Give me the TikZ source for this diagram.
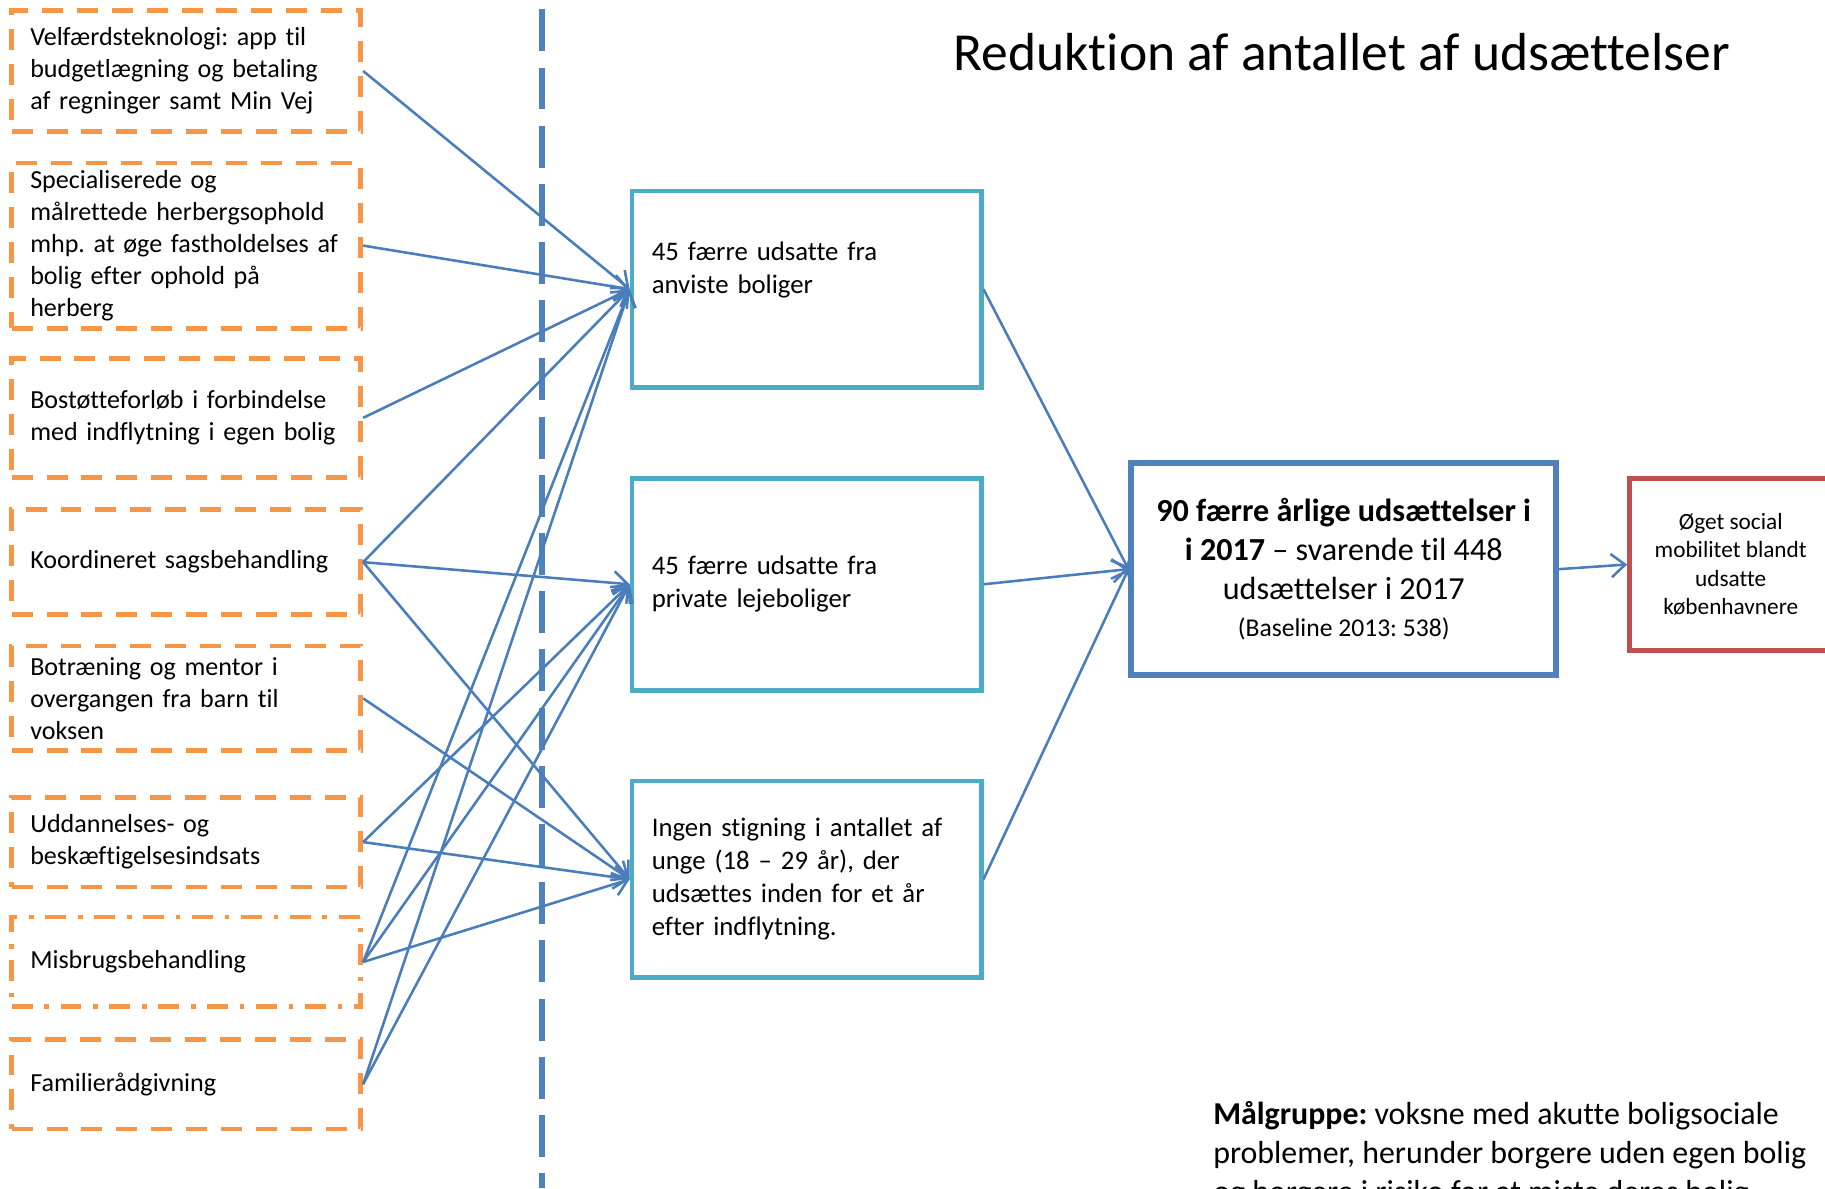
\documentclass[tikz,border=0pt]{standalone}
\usepackage{fontspec}
\setmainfont{Carlito}[Ligatures=CommonOff]
\frenchspacing
\usetikzlibrary{arrows.meta}

\definecolor{TiltagOrange}{HTML}{F79646}
\definecolor{MalCyan}{HTML}{4BACC6}
\definecolor{EffektBlue}{HTML}{4F81BD}
\definecolor{PilBlue}{HTML}{4A7EBB}
\definecolor{GevinstRed}{HTML}{C0504D}

\tikzstyle{tiltag-box}=[draw=TiltagOrange, line width=2pt, dash pattern=on 9pt off 6pt, fill=white, text width=134pt, inner xsep=8pt, inner ysep=1pt, align=left, font=\fontsize{11.2}{13.75}\selectfont]
\tikzstyle{mal-box}=[draw=MalCyan, line width=2pt, fill=white, text width=133pt, inner xsep=8.5pt, align=left, font=\fontsize{11.5}{14.2}\selectfont]
\tikzstyle{pil}=[draw=PilBlue, line width=1.1pt, -{Straight Barb[length=6pt,width=10pt]}]

\begin{document}
\begin{tikzpicture}[x=0.5pt, y=-0.5pt]
      \clip (0,0) rectangle (1568,1021);
      \fill[white] (0,0) rectangle (1568,1021);

      \node (titel) at (1153, 45) {\fontsize{23}{27}\selectfont Reduktion af antallet af udsættelser};

      \coordinate (skille-top) at (466, 8);
      \coordinate (skille-bund) at (466, 1021);
      \draw[draw=EffektBlue, line width=2.5pt, dash pattern=on 18pt off 7pt] (skille-top) -- (skille-bund);

      \node (tiltag-1) at (160,  61)   [tiltag-box, minimum height=52pt] {Velfærdsteknologi: app til\\budgetlægning og betaling\\af regninger samt Min Vej};
      \node (tiltag-2) at (160, 211)   [tiltag-box, minimum height=71pt] {Specialiserede og\\målrettede herbergsophold\\mhp. at øge fastholdelses af\\bolig efter ophold på\\herberg};
      \node (tiltag-3) at (160, 359)   [tiltag-box, minimum height=51pt] {Bostøtteforløb i forbindelse\\med indflytning i egen bolig};
      \node (tiltag-4) at (160, 483)   [tiltag-box, minimum height=45pt] {Koordineret sagsbehandling};
      \node (tiltag-5) at (160, 600)   [tiltag-box, minimum height=45pt] {Botræning og mentor i\\overgangen fra barn til\\voksen};
      \node (tiltag-6) at (160, 723.5) [tiltag-box, minimum height=38.5pt] {Uddannelses- og\\beskæftigelsesindsats};
      \node (tiltag-7) at (160, 826.5) [tiltag-box, minimum height=38.5pt, dash pattern=on 9pt off 5pt on 2pt off 5pt] {Misbrugsbehandling};
      \node (tiltag-8) at (160, 931.5) [tiltag-box, minimum height=38.5pt] {Familierådgivning};

      \node (mal-1) at (693, 248.5) [mal-box, minimum height=84.5pt] {45 færre udsatte fra\\anviste boliger\\\strut};
      \node (mal-2) at (693, 502)   [mal-box, minimum height=91pt] {45 færre udsatte fra\\private lejeboliger};
      \node (mal-3) at (693, 755.5) [mal-box, minimum height=84.5pt] {Ingen stigning i antallet af\\unge (18 – 29 år), der\\udsættes inden for et år\\efter indflytning.};

      \node (effekt) at (1154.5, 489) [draw=EffektBlue, line width=2.5pt, fill=white, minimum width=182.5pt, minimum height=91pt, align=center, font=\fontsize{13.8}{16.75}\selectfont] {\textbf{90 færre årlige udsættelser i}\\\textbf{i 2017} – svarende til 448\\udsættelser i 2017\\[-1pt]{\fontsize{11}{13}\selectfont (Baseline 2013: 538)}};

      \node (gevinst) at (1487, 485) [draw=GevinstRed, line width=2pt, fill=white, minimum width=87pt, minimum height=74pt, align=center, font=\fontsize{10}{12.2}\selectfont] {Øget social\\mobilitet blandt\\udsatte\\københavnere};

      \node (malgruppe) at (1042, 946) [anchor=north west, inner sep=0pt, align=left, font=\fontsize{13.7}{16.75}\selectfont] {\textbf{Målgruppe:} voksne med akutte boligsociale\\problemer, herunder borgere uden egen bolig\\og borgere i risiko for at miste deres bolig.};

      \draw[pil] (tiltag-1.east) -- (mal-1.west);
      \draw[pil] (tiltag-2.east) -- (mal-1.west);
      \draw[pil] (tiltag-3.east) -- (mal-1.west);
      \draw[pil] (tiltag-4.east) -- (mal-1.west);
      \draw[pil] (tiltag-4.east) -- (mal-2.west);
      \draw[pil] (tiltag-4.east) -- (mal-3.west);
      \draw[pil] (tiltag-5.east) -- (mal-3.west);
      \draw[pil] (tiltag-6.east) -- (mal-2.west);
      \draw[pil] (tiltag-6.east) -- (mal-3.west);
      \draw[pil] (tiltag-7.east) -- (mal-1.west);
      \draw[pil] (tiltag-7.east) -- (mal-2.west);
      \draw[pil] (tiltag-7.east) -- (mal-3.west);
      \draw[pil] (tiltag-8.east) -- (mal-1.west);
      \draw[pil] (tiltag-8.east) -- (mal-2.west);

      \draw[pil] (mal-1.east) -- (effekt.west);
      \draw[pil] (mal-2.east) -- (effekt.west);
      \draw[pil] (mal-3.east) -- (effekt.west);
      \draw[pil] (effekt.east) -- (gevinst.west);
    \end{tikzpicture}
\end{document}
